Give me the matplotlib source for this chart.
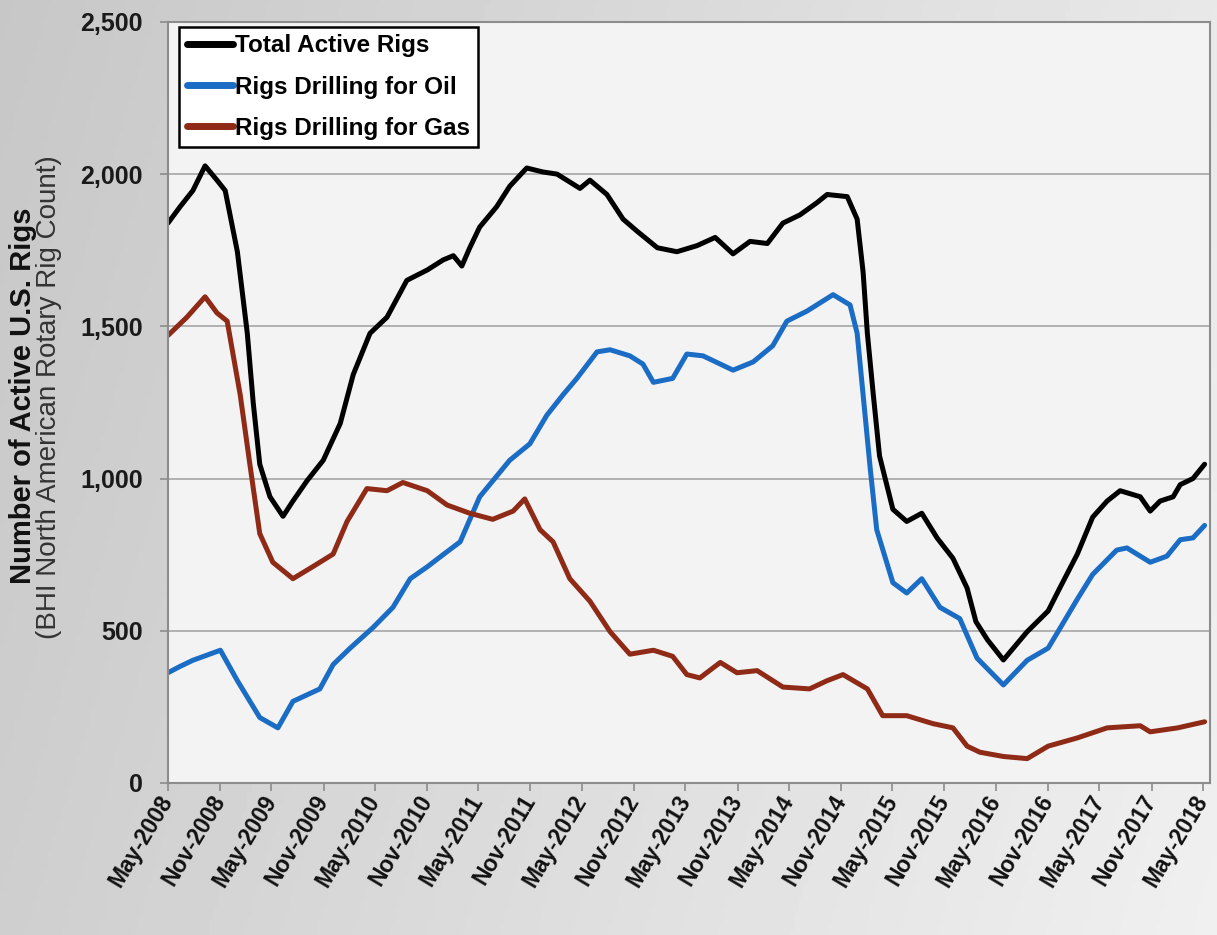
import numpy as np
import pandas as pd
import matplotlib
matplotlib.use("Agg")
import matplotlib.pyplot as plt
import matplotlib.dates as mdates
import matplotlib.ticker as mtick

total_dates = ["2008-05-01", "2008-06-13", "2008-07-28", "2008-09-09", "2008-10-21", "2008-11-19",
               "2009-01-01", "2009-02-05", "2009-02-26", "2009-03-21", "2009-04-26", "2009-06-11",
               "2009-07-16", "2009-09-04", "2009-10-31", "2009-12-30", "2010-02-14", "2010-04-14",
               "2010-06-13", "2010-08-22", "2010-11-02", "2010-12-28", "2011-02-02", "2011-03-04",
               "2011-04-01", "2011-05-06", "2011-07-05", "2011-08-20", "2011-10-19", "2011-12-15",
               "2012-02-03", "2012-04-24", "2012-05-29", "2012-07-28", "2012-09-23", "2012-11-12",
               "2013-01-22", "2013-04-01", "2013-06-11", "2013-08-14", "2013-10-16", "2013-12-15",
               "2014-02-14", "2014-04-10", "2014-06-09", "2014-08-08", "2014-09-13", "2014-11-23",
               "2014-12-28", "2015-01-18", "2015-02-02", "2015-02-23", "2015-03-17", "2015-05-03",
               "2015-06-21", "2015-08-13", "2015-10-06", "2015-12-01", "2016-01-20", "2016-02-20",
               "2016-04-01", "2016-05-27", "2016-08-19", "2016-11-01", "2016-12-14", "2017-02-12",
               "2017-04-07", "2017-05-28", "2017-07-13", "2017-09-22", "2017-10-27", "2017-12-01",
               "2018-01-16", "2018-02-10", "2018-03-27", "2018-05-07"]
total_rigs = [1839, 1893, 1946, 2027, 1980, 1946,
              1745, 1477, 1248, 1047, 940, 876,
              926, 993, 1060, 1181, 1342, 1477,
              1530, 1651, 1685, 1718, 1732, 1698,
              1758, 1826, 1893, 1960, 2020, 2007,
              2000, 1953, 1980, 1933, 1852, 1812,
              1758, 1745, 1765, 1792, 1738, 1779,
              1772, 1839, 1866, 1906, 1933, 1926,
              1852, 1678, 1477, 1275, 1074, 899,
              859, 886, 805, 738, 640, 530,
              470, 404, 497, 565, 644, 752,
              873, 926, 960, 940, 893, 926,
              940, 980, 1000, 1047]

oil_dates = ["2008-05-01", "2008-06-13", "2008-07-28", "2008-11-02", "2009-01-01", "2009-03-21",
             "2009-05-24", "2009-07-16", "2009-10-19", "2009-12-05", "2010-02-03", "2010-04-24",
             "2010-07-04", "2010-09-03", "2010-11-02", "2010-12-28", "2011-02-26", "2011-05-06",
             "2011-08-20", "2011-10-30", "2011-12-29", "2012-02-24", "2012-04-13", "2012-06-23",
             "2012-08-08", "2012-10-17", "2012-12-02", "2013-01-08", "2013-03-17", "2013-05-06",
             "2013-07-02", "2013-10-16", "2013-12-26", "2014-03-05", "2014-04-24", "2014-07-04",
             "2014-10-04", "2014-12-03", "2014-12-28", "2015-01-18", "2015-02-12", "2015-03-07",
             "2015-05-03", "2015-06-21", "2015-08-13", "2015-10-16", "2015-12-25", "2016-02-24",
             "2016-05-27", "2016-08-19", "2016-11-01", "2016-12-14", "2017-02-12", "2017-04-07",
             "2017-07-01", "2017-08-06", "2017-10-27", "2017-12-25", "2018-02-10", "2018-03-27",
             "2018-05-07"]
oil_rigs = [362, 383, 403, 436, 336, 215,
            181, 268, 309, 389, 443, 510,
            577, 671, 710, 750, 792, 940,
            1060, 1114, 1208, 1275, 1329, 1416,
            1423, 1403, 1376, 1316, 1329, 1409,
            1403, 1356, 1383, 1436, 1517, 1550,
            1604, 1570, 1477, 1275, 1034, 832,
            658, 624, 671, 577, 540, 410,
            322, 403, 443, 510, 604, 685,
            765, 772, 725, 745, 799, 805,
            846]

gas_dates = ["2008-05-01", "2008-07-07", "2008-09-09", "2008-10-21", "2008-11-26", "2009-01-11",
             "2009-02-16", "2009-03-21", "2009-05-06", "2009-07-16", "2009-09-25", "2009-12-05",
             "2010-01-23", "2010-04-03", "2010-06-13", "2010-08-08", "2010-11-02", "2011-01-11",
             "2011-04-01", "2011-06-21", "2011-09-01", "2011-10-12", "2011-12-05", "2012-01-20",
             "2012-03-19", "2012-05-29", "2012-08-08", "2012-10-17", "2013-01-08", "2013-03-17",
             "2013-05-06", "2013-06-21", "2013-09-01", "2013-10-30", "2014-01-09", "2014-04-10",
             "2014-07-13", "2014-09-13", "2014-11-08", "2015-02-02", "2015-03-28", "2015-06-21",
             "2015-09-21", "2015-12-01", "2016-01-20", "2016-03-05", "2016-05-27", "2016-08-19",
             "2016-11-01", "2017-02-12", "2017-05-28", "2017-09-22", "2017-10-27", "2018-02-01",
             "2018-05-07"]
gas_rigs = [1470, 1530, 1597, 1544, 1517, 1275,
            1034, 819, 725, 671, 711, 752,
            859, 967, 960, 987, 960, 913,
            886, 866, 893, 933, 832, 792,
            671, 597, 497, 423, 436, 416,
            356, 345, 396, 362, 369, 315,
            309, 336, 356, 309, 221, 221,
            195, 181, 121, 101, 87, 80,
            121, 148, 181, 188, 168, 181,
            201]

series_labels = ["Total Active Rigs", "Rigs Drilling for Oil", "Rigs Drilling for Gas"]
series_colors = ["#000000", "#1a6cc4", "#8e2a16"]

plt.rcParams['font.family'] = ['Liberation Sans', 'DejaVu Sans']

fig = plt.figure(figsize=(12.17, 9.35), dpi=100)

# grey backdrop, darker on the left
bg = fig.add_axes([0, 0, 1, 1], zorder=-10)
gx = np.linspace(0.78, 0.91, 256)
gy = np.linspace(0.0, 0.03, 256)
grad = np.clip(gx[None, :] + gy[:, None], 0, 1)
bg.imshow(grad, cmap='gray', vmin=0, vmax=1, aspect='auto', extent=[0, 1, 0, 1])
bg.axis('off')

ax = fig.add_axes([0.138, 0.1626, 0.856, 0.814])
ax.set_facecolor('#f3f3f3')

for d, v, lab, col in zip([total_dates, oil_dates, gas_dates],
                          [total_rigs, oil_rigs, gas_rigs],
                          series_labels, series_colors):
    ax.plot(pd.to_datetime(d), v, color=col, lw=3.6, label=lab,
            solid_joinstyle='round', solid_capstyle='round')

ax.set_ylim(0, 2500)
ax.set_xlim(pd.Timestamp("2008-05-01"), pd.Timestamp("2018-05-25"))
ax.yaxis.set_major_locator(mtick.MultipleLocator(500))
ax.yaxis.set_major_formatter(mtick.StrMethodFormatter('{x:,.0f}'))
ax.xaxis.set_major_locator(mdates.MonthLocator(bymonth=[5, 11], bymonthday=1))
ax.xaxis.set_major_formatter(mdates.DateFormatter('%b-%Y'))

ax.grid(True, axis='y', color='#a6a6a6', lw=1.2)
ax.set_axisbelow(True)
for s in ax.spines.values():
    s.set_color('#8c8c8c')
    s.set_linewidth(1.5)

ax.tick_params(axis='y', length=6, width=1.2, color='#8c8c8c', pad=12,
               labelsize=18, labelcolor='#1a1a1a')
ax.tick_params(axis='x', length=6, width=1.2, color='#8c8c8c', pad=4,
               labelsize=16.5, labelcolor='#111111')
for t in ax.get_yticklabels():
    t.set_fontweight('bold')
for t in ax.get_xticklabels():
    t.set_fontweight('bold')
    t.set_rotation(59)
    t.set_ha('right')
    t.set_va('center')
    t.set_rotation_mode('anchor')

fig.text(0.019, 0.577, "Number of Active U.S. Rigs", rotation=90, ha='center', va='center',
         fontsize=21, fontweight='bold', color='#111111')
fig.text(0.040, 0.575, "(BHI North American Rotary Rig Count)", rotation=90, ha='center',
         va='center', fontsize=20, color='#333333')

leg = ax.legend(loc='upper left', bbox_to_anchor=(0.011, 0.993), borderaxespad=0,
                prop={'weight': 'bold', 'size': 17.5}, handlelength=1.9, handletextpad=0.1,
                labelspacing=0.75, borderpad=0.3, fancybox=False, framealpha=1,
                edgecolor='black', facecolor='white')
leg.get_frame().set_linewidth(1.8)
for h in leg.get_lines():
    h.set_linewidth(5)

fig.savefig("out.png", dpi=100)
